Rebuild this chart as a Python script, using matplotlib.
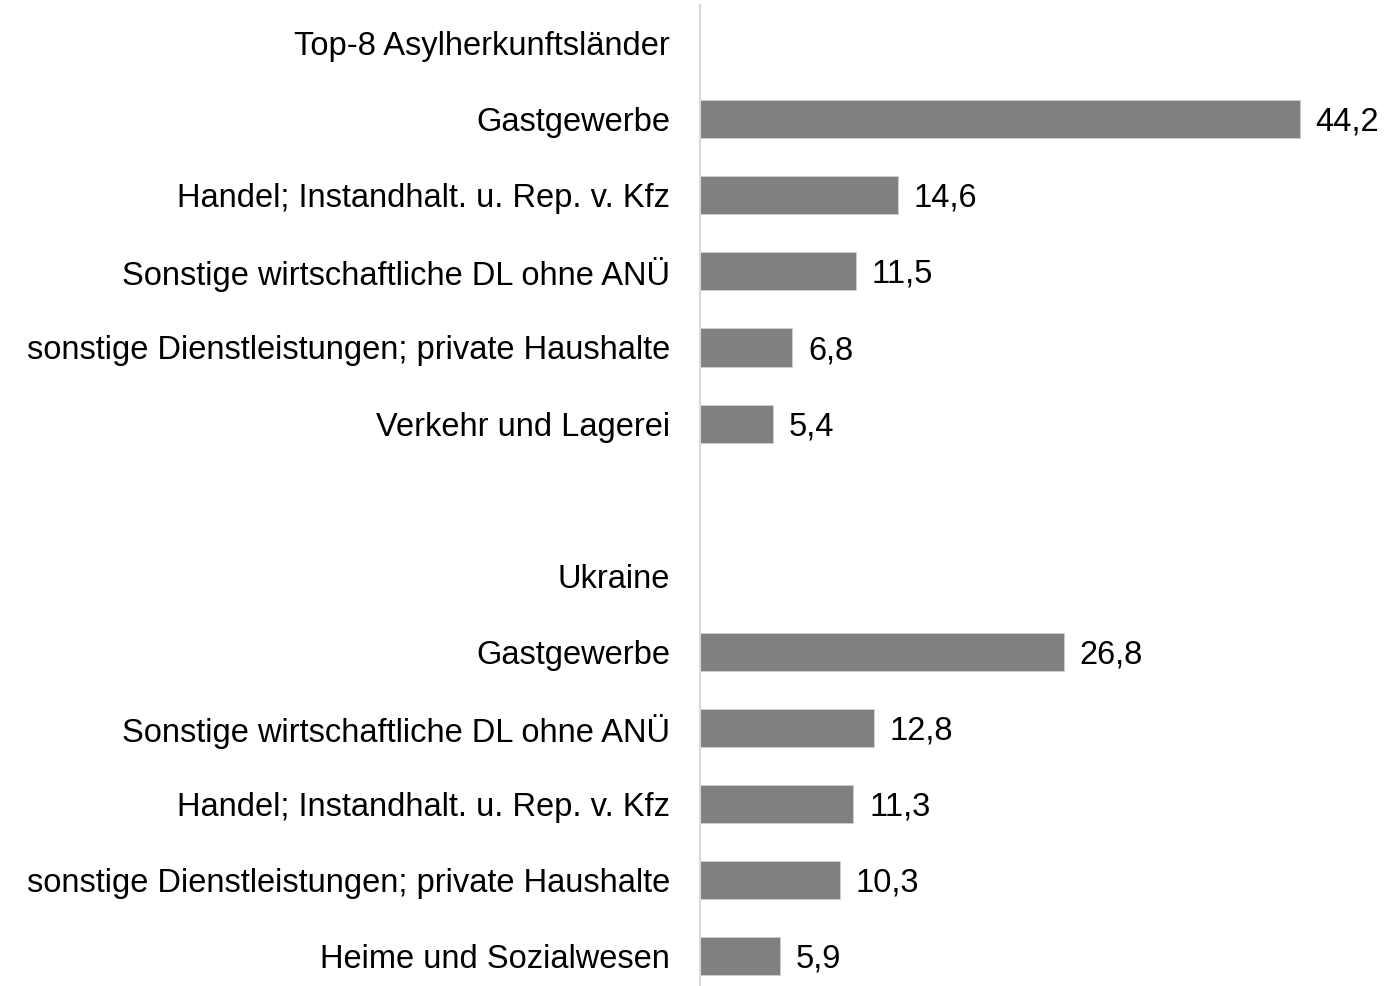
import matplotlib
matplotlib.use('Agg')
from matplotlib import pyplot as plt

# Rows from top to bottom; None = group heading / blank row
labels = ['Top-8 Asylherkunftsländer',
          'Gastgewerbe',
          'Handel; Instandhalt. u. Rep. v. Kfz',
          'Sonstige wirtschaftliche DL ohne ANÜ',
          'sonstige Dienstleistungen; private Haushalte',
          'Verkehr und Lagerei',
          '',
          'Ukraine',
          'Gastgewerbe',
          'Sonstige wirtschaftliche DL ohne ANÜ',
          'Handel; Instandhalt. u. Rep. v. Kfz',
          'sonstige Dienstleistungen; private Haushalte',
          'Heime und Sozialwesen']
values = [None, 44.2, 14.6, 11.5, 6.8, 5.4,
          None, None, 26.8, 12.8, 11.3, 10.3, 5.9]

plt.rcParams['font.family'] = ['Liberation Sans', 'DejaVu Sans']

fig = plt.figure(figsize=(13.87, 9.86), dpi=100)
ax = fig.add_axes([700 / 1387, 0, 687 / 1387, 981 / 986])

for i, (lab, v) in enumerate(zip(labels, values)):
    if v is not None:
        ax.barh(i, v, height=0.5, color='#808080', edgecolor='#d0d0d0', linewidth=0.6)
        ax.text(v + 1.15, i + 0.04, f'{v:.1f}'.replace('.', ','),
                va='center', ha='left', fontsize=23.5, color='black')

ax.set_yticks(range(len(labels)))
ax.set_yticklabels(labels, fontsize=23.5)
ax.tick_params(axis='y', length=0, pad=21.5)
ax.set_xticks([])
ax.set_xlim(0, 687 / 13.575)
ax.set_ylim(12.39, -0.5)
for s in ['top', 'right', 'bottom']:
    ax.spines[s].set_visible(False)
ax.spines['left'].set_color('#d9d9d9')
ax.spines['left'].set_linewidth(1.5)

fig.savefig('out.png', dpi=100)
